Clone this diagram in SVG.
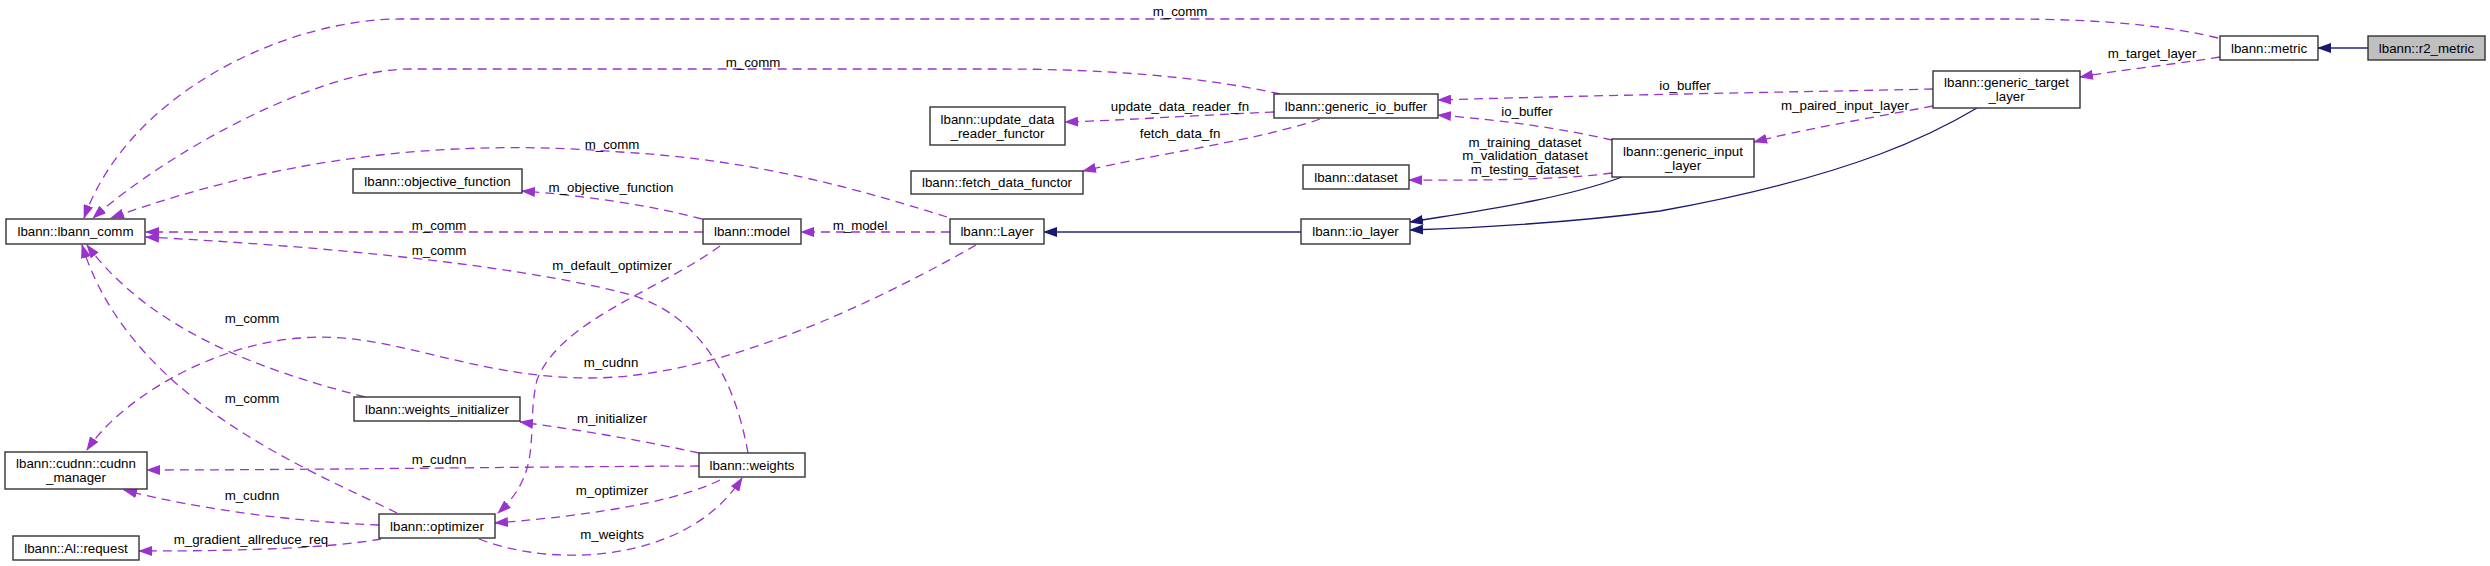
<svg xmlns="http://www.w3.org/2000/svg" width="2490" height="566" viewBox="0 0 2490 566">
<style>
text{font-family:"Liberation Sans",Arial,sans-serif;font-size:13.3px;fill:#000;text-anchor:middle}
.box{fill:#fff;stroke:#333;stroke-width:1.4}
.sel{fill:#bfbfbf;stroke:#333;stroke-width:1.4}
.d{fill:none;stroke:#9a32cd;stroke-width:1.3;stroke-dasharray:9,6;marker-end:url(#ap)}
.s{fill:none;stroke:#191970;stroke-width:1.3;marker-end:url(#ab)}
.s2{fill:none;stroke:#191970;stroke-opacity:0.7;stroke-width:2;marker-end:url(#ab)}
</style>
<defs>
<marker id="ap" markerWidth="14" markerHeight="10" refX="13" refY="5" orient="auto" markerUnits="userSpaceOnUse"><path d="M0,0 L14,5 L0,10 z" fill="#9a32cd"/></marker>
<marker id="ab" markerWidth="14" markerHeight="10" refX="13" refY="5" orient="auto" markerUnits="userSpaceOnUse"><path d="M0,0 L14,5 L0,10 z" fill="#191970"/></marker>
</defs>
<rect width="2490" height="566" fill="#fff"/>
<g id="edges">
<path class="d" d="M2218,38 C2160,24 2090,19 2010,19 L400,19 C290,19 130,90 84,218"/>
<text x="1180" y="16">m_comm</text>
<path class="d" d="M1280,94 C1200,76 1100,69 1000,69 L410,69 C320,69 170,150 93,218"/>
<text x="753" y="67">m_comm</text>
<path class="d" d="M947,217 C860,190 760,160 620,152 C470,140 300,150 111,218"/>
<text x="612" y="149">m_comm</text>
<path class="d" d="M703,232 L146,232"/>
<text x="439" y="230">m_comm</text>
<path class="d" d="M748,453 C735,380 700,310 620,292 C500,262 300,245 146,237"/>
<text x="439" y="255">m_comm</text>
<path class="d" d="M365,397 C260,370 150,330 87,245"/>
<text x="252" y="323">m_comm</text>
<path class="d" d="M397,513 C310,470 130,400 82,245"/>
<text x="252" y="403">m_comm</text>
<path class="d" d="M702,219 C650,205 580,195 522,191"/>
<text x="611" y="192">m_objective_function</text>
<path class="d" d="M950,232 L801,232"/>
<text x="860" y="230">m_model</text>
<path class="d" d="M976,245 C880,300 720,378 590,378 C470,378 390,330 300,338 C210,345 120,400 87,450"/>
<text x="611" y="367">m_cudnn</text>
<path class="d" d="M699,466 C500,467 300,470 147,470"/>
<text x="439" y="464">m_cudnn</text>
<path class="d" d="M379,525 C300,522 200,510 124,490"/>
<text x="252" y="500">m_cudnn</text>
<path class="d" d="M381,539 C330,548 250,551 139,551"/>
<text x="251" y="544">m_gradient_allreduce_req</text>
<path class="d" d="M720,246 C660,290 560,320 537,380 C525,430 545,470 498,513"/>
<text x="612" y="270">m_default_optimizer</text>
<path class="d" d="M699,453 C640,440 580,430 520,422"/>
<text x="612" y="423">m_initializer</text>
<path class="d" d="M720,480 C680,500 600,515 495,523"/>
<text x="612" y="495">m_optimizer</text>
<path class="d" d="M479,539 C560,570 690,560 742,478"/>
<text x="612" y="539">m_weights</text>
<path class="d" d="M1274,112 C1200,115 1130,120 1065,122"/>
<text x="1180" y="111">update_data_reader_fn</text>
<path class="d" d="M1320,119 C1260,140 1150,155 1083,171"/>
<text x="1180" y="138">fetch_data_fn</text>
<path class="d" d="M1933,89 C1800,92 1600,95 1438,100"/>
<text x="1685" y="90">io_buffer</text>
<path class="d" d="M1612,140 C1560,128 1500,120 1438,115"/>
<text x="1527" y="116">io_buffer</text>
<path class="d" d="M1612,173 C1580,178 1500,181 1409,180"/>
<text x="1525" y="147">m_training_dataset</text>
<text x="1525" y="160">m_validation_dataset</text>
<text x="1525" y="174">m_testing_dataset</text>
<path class="d" d="M1933,106 C1870,118 1800,130 1754,142"/>
<text x="1845" y="110">m_paired_input_layer</text>
<path class="d" d="M2220,57 C2170,65 2120,70 2080,77"/>
<text x="2152" y="58">m_target_layer</text>
<path class="s2" d="M2368,48 L2318,48"/>
<path class="s" d="M1622,177 C1560,200 1470,212 1410,222"/>
<path class="s" d="M1977,108 C1940,130 1860,175 1660,211 C1560,224 1470,228 1410,230"/>
<path class="s2" d="M1301,232 L1044,232"/>
</g>
<g id="n_lbann_comm"><rect class="box" x="6" y="219" width="139" height="25"/><text x="75.5" y="236">lbann::lbann_comm</text></g>
<g id="n_objective_function"><rect class="box" x="353" y="169" width="169" height="24"/><text x="437.5" y="185.5">lbann::objective_function</text></g>
<g id="n_model"><rect class="box" x="703" y="219" width="98" height="25"/><text x="752" y="236">lbann::model</text></g>
<g id="n_layer"><rect class="box" x="950" y="219" width="94" height="25"/><text x="997" y="236">lbann::Layer</text></g>
<g id="n_update_data_reader_functor"><rect class="box" x="930" y="107" width="135" height="38"/><text x="997.5" y="124">lbann::update_data</text><text x="997.5" y="138">_reader_functor</text></g>
<g id="n_fetch_data_functor"><rect class="box" x="911" y="171" width="172" height="23"/><text x="997" y="187">lbann::fetch_data_functor</text></g>
<g id="n_generic_io_buffer"><rect class="box" x="1274" y="94" width="164" height="24"/><text x="1356" y="110.5">lbann::generic_io_buffer</text></g>
<g id="n_dataset"><rect class="box" x="1303" y="165" width="106" height="24"/><text x="1356" y="181.5">lbann::dataset</text></g>
<g id="n_io_layer"><rect class="box" x="1301" y="219" width="109" height="25"/><text x="1355.5" y="236">lbann::io_layer</text></g>
<g id="n_generic_input_layer"><rect class="box" x="1612" y="139" width="142" height="38"/><text x="1683" y="156">lbann::generic_input</text><text x="1683" y="170">_layer</text></g>
<g id="n_generic_target_layer"><rect class="box" x="1933" y="71" width="147" height="37"/><text x="2006.5" y="87">lbann::generic_target</text><text x="2006.5" y="101">_layer</text></g>
<g id="n_metric"><rect class="box" x="2220" y="36" width="98" height="24"/><text x="2269" y="52.5">lbann::metric</text></g>
<g id="n_r2_metric"><rect class="sel" x="2368" y="36" width="117" height="24"/><text x="2426.5" y="52.5">lbann::r2_metric</text></g>
<g id="n_cudnn_manager"><rect class="box" x="5" y="452" width="142" height="37"/><text x="76" y="468">lbann::cudnn::cudnn</text><text x="76" y="482">_manager</text></g>
<g id="n_al_request"><rect class="box" x="13" y="536" width="126" height="24"/><text x="76" y="552.5">lbann::Al::request</text></g>
<g id="n_weights_initializer"><rect class="box" x="354" y="397" width="166" height="24"/><text x="437" y="413.5">lbann::weights_initializer</text></g>
<g id="n_weights"><rect class="box" x="699" y="453" width="106" height="24"/><text x="752" y="469.5">lbann::weights</text></g>
<g id="n_optimizer"><rect class="box" x="379" y="514" width="116" height="24"/><text x="437" y="530.5">lbann::optimizer</text></g>
</svg>
